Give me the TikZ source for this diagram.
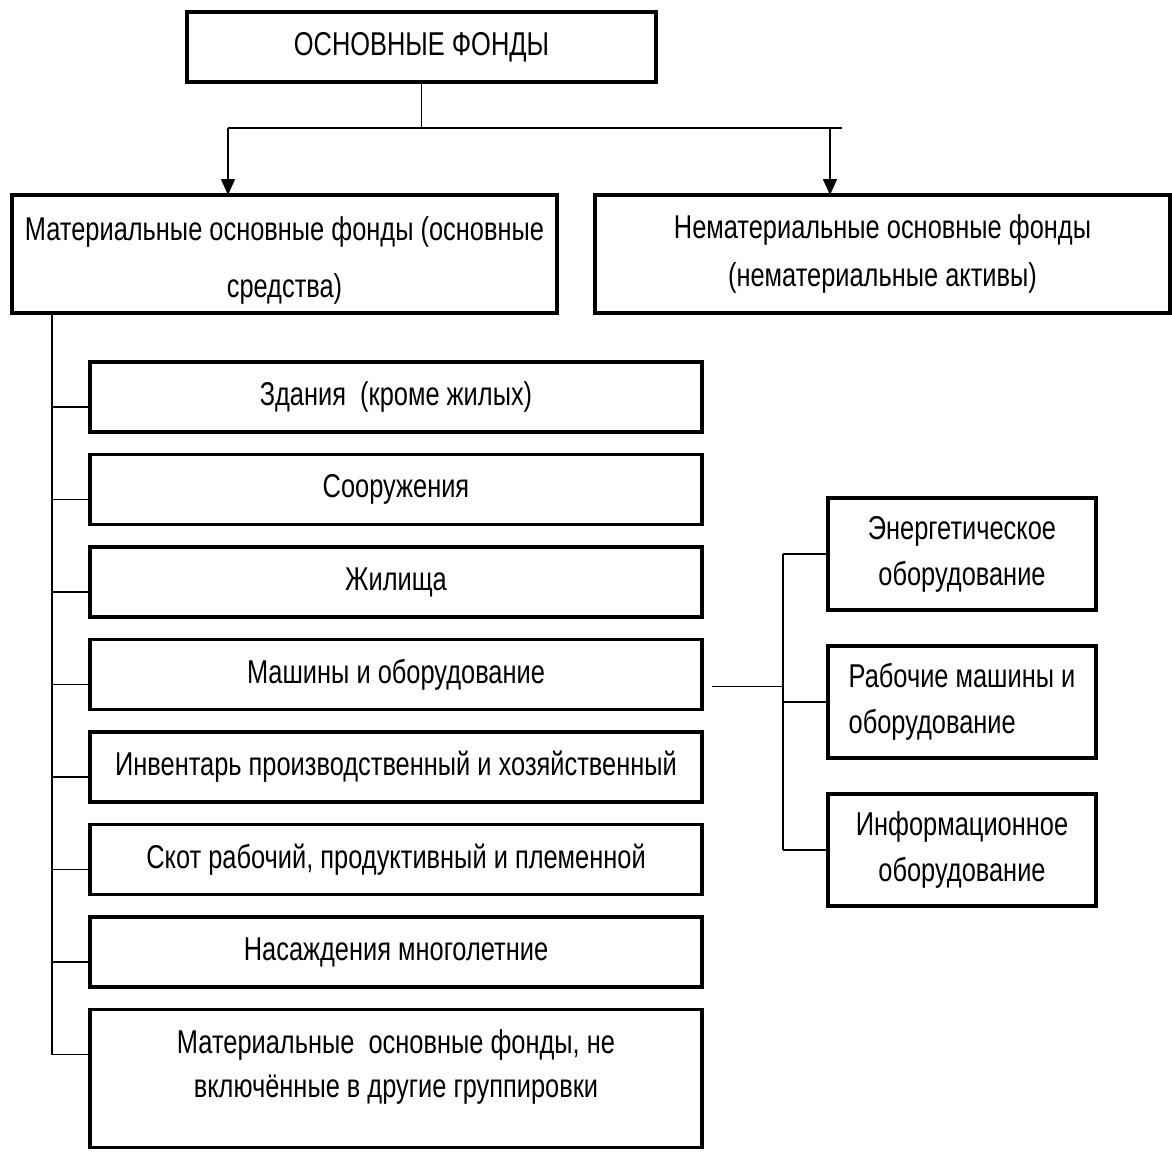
\documentclass[tikz,border=0pt]{standalone}
\usepackage{fontspec}
\setmainfont{Liberation Sans}[FakeStretch=0.77]
\usetikzlibrary{arrows.meta,positioning}

\begin{document}
\begin{tikzpicture}[
                     x = 1pt, y = 1pt,
     every node/.style = {font=\fontsize{33}{46}\selectfont},
           box/.style = {draw, line width=3.2pt, inner sep=0pt, outer sep=0pt,
                         align=center, minimum height=70pt},
           col/.style = {box, minimum width=612pt},
           sub/.style = {box, minimum width=268pt, minimum height=112pt},
          link/.style = {draw, line width=1.6pt},
         arrow/.style = {link, -{Triangle[length=16pt,width=14pt]}},
         node distance = 22.5pt,
                     ]
\useasboundingbox (0,0) rectangle (1172,-1151);

\node[box, minimum width=469pt] (osn) at (421.5,-47) {ОСНОВНЫЕ ФОНДЫ};
\node[box, minimum width=545pt, minimum height=118pt, text height=93pt,
      font=\fontsize{33}{57}\selectfont] (mat) at (284.5,-254)
      {Материальные основные фонды (основные\\средства)};
\node[box, minimum width=575pt, minimum height=118pt,
      font=\fontsize{33}{48}\selectfont] (nemat) at (882.5,-254)
      {Нематериальные основные фонды\\(нематериальные активы)};

\node[col] (b1) at (396,-397) {Здания~ (кроме жилых)};
\node[col, below=of b1] (b2) {Сооружения};
\node[col, below=of b2] (b3) {Жилища};
\node[col, below=of b3] (b4) {Машины и оборудование};
\node[col, below=of b4] (b5) {Инвентарь производственный и хозяйственный};
\node[col, below=of b5] (b6) {Скот рабочий, продуктивный и племенной};
\node[col, below=of b6] (b7) {Насаждения многолетние};
\node[col, below=of b7, minimum height=138pt, text depth=30pt,
      font=\fontsize{33}{44}\selectfont] (b8)
      {Материальные~ основные фонды, не\\включённые в другие группировки};

\node[sub] (r1) at (962,-554) {Энергетическое\\оборудование};
\node[sub, below=36pt of r1, align=left] (r2) {Рабочие машины и\\оборудование};
\node[sub, below=36pt of r2] (r3) {Информационное\\оборудование};

% top fork
\draw[link] (osn.south) -- ++(0,-46) coordinate (bar);
\coordinate (ml) at ([xshift=216pt]mat.north west);
\coordinate (nl) at ([xshift=235pt]nemat.north west);
\draw[link] (bar -| ml) -- (bar -| nl) -- ++(12,0);
\draw[arrow] (bar -| ml) -- (ml);
\draw[arrow] (bar -| nl) -- (nl);

% left trunk
\coordinate (trunk) at ([xshift=40pt]mat.south west);
\foreach \i in {1,...,8}{
    \coordinate (t\i) at ([yshift=-45pt]b\i.north west);
    \draw[link] (t\i -| trunk) -- (t\i);
}
\draw[link] (trunk) -- (trunk |- t8);

% machines
\coordinate (hub) at ([xshift=10pt,yshift=-12pt]b4.east);
\coordinate (spine) at ([xshift=-45pt]r1.west);
\draw[link] (hub) -- (hub -| spine);
\draw[link] (spine) -- (spine |- r3.west);
\foreach \r in {r1,r2,r3}
    \draw[link] (spine |- \r.west) -- (\r.west);
\end{tikzpicture}
\end{document}
